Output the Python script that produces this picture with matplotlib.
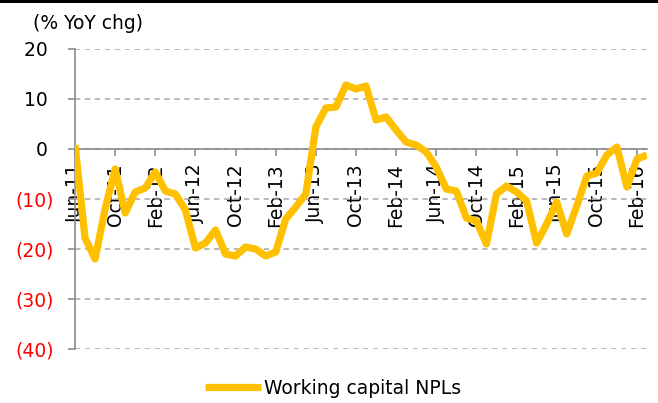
# plot.py
# ============================================================
# Working capital NPLs, % YoY chg (Jun-11 -> Mar-16)
# ============================================================

import pandas as pd
import matplotlib.pyplot as plt
from matplotlib.patches import Rectangle

# --- données ---
months = pd.date_range("2011-06-01", "2016-03-01", freq="MS")
npl_yoy = [
    0.8, -17.8, -22.0, -12.0, -4.0, -12.8, -8.6, -7.8, -4.6, -8.4,
    -9.0, -12.2, -19.8, -18.8, -16.2, -21.0, -21.4, -19.6, -20.0, -21.4,
    -20.6, -14.0, -11.6, -9.0, 4.4, 8.2, 8.4, 12.8, 12.0, 12.6,
    5.8, 6.4, 3.8, 1.4, 0.8, -0.6, -3.6, -8.0, -8.4, -13.8,
    -14.4, -19.0, -9.0, -7.4, -8.6, -10.4, -18.8, -15.0, -10.6, -17.0,
    -11.4, -5.4, -4.8, -1.2, 0.4, -7.6, -2.0, -1.2,
]
y_ticks = [-40, -30, -20, -10, 0, 10, 20]
series_name = "Working capital NPLs"
y_title = "(% YoY chg)"

GOLD = "#FFC000"
GREY = "#8C8C8C"
FS = 13.5

plt.rcParams["font.family"] = "DejaVu Sans"

fig = plt.figure(figsize=(6.58, 4.03), dpi=100)
ax = fig.add_axes([75 / 658, 1 - 349 / 403, 572 / 658, 300 / 403])

x = list(range(len(npl_yoy)))
ax.plot(x, npl_yoy, color=GOLD, lw=5.2, solid_joinstyle="round",
        solid_capstyle="butt", label=series_name, zorder=3)

# axes
ax.set_xlim(0, len(npl_yoy) - 1)
ax.set_ylim(y_ticks[0], y_ticks[-1])
ax.set_axisbelow(True)
for s in ("top", "right"):
    ax.spines[s].set_visible(False)
ax.spines["bottom"].set_position(("data", 0))
for s in ("left", "bottom"):
    ax.spines[s].set_color(GREY)
    ax.spines[s].set_linewidth(1.2)
    ax.spines[s].set_zorder(1)

# x : une étiquette tous les 4 mois
xt = x[::4]
ax.set_xticks(xt)
ax.set_xticklabels([months[i].strftime("%b-%y") for i in xt],
                   rotation=90, fontsize=FS)
ax.tick_params(axis="x", direction="out", length=5, width=1.2,
               color=GREY, pad=5)

# y : négatifs en rouge entre parenthèses
ax.set_yticks(y_ticks)
labels = [f"({abs(v)})" if v < 0 else f"{v} " for v in y_ticks]
ax.set_yticklabels(labels, fontsize=FS)
for lab, v in zip(ax.get_yticklabels(), y_ticks):
    lab.set_color("#FF0000" if v < 0 else "black")
ax.tick_params(axis="y", direction="out", length=5, width=1.2,
               color=GREY, pad=10)

ax.grid(axis="y", color="#A6A6A6", lw=1.1, ls=(0, (3.5, 3)))
ax.set_facecolor("none")

fig.text(33 / 658, 1 - 29 / 403, y_title, fontsize=FS, ha="left",
         va="baseline")

fig.legend(loc="center", bbox_to_anchor=(333 / 658, 1 - 388 / 403),
           frameon=False, fontsize=FS, handlelength=3.0,
           handletextpad=0.15)

# barre noire en haut
fig.add_artist(Rectangle((0, 1 - 3 / 403), 1, 3 / 403,
                         transform=fig.transFigure, color="black", lw=0))

plt.savefig("out.png", dpi=100)
plt.close()
